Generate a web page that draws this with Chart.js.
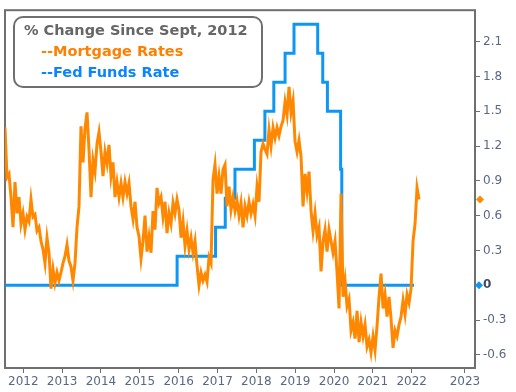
<!DOCTYPE html>
<html>
<head>
<meta charset="utf-8">
<script src="https://cdn.jsdelivr.net/npm/chart.js@4.4.1/dist/chart.umd.min.js"></script>
<style>
  html, body { margin: 0; padding: 0; background: #fff; }
</style>
</head>
<body>
<canvas id="chart" width="516" height="392"></canvas>
<script>
const titleText = '% Change Since Sept, 2012';
const seriesNames = ['--Mortgage Rates', '--Fed Funds Rate'];

// mortgage rate change in pct points, every 19 days from mid-2011
const mortgageStart = 2011.529;
const mortgageStep = 0.0515;
const mortgageChange = [
  1.36, 0.93, 0.96, 0.76, 0.50, 0.89, 0.62, 0.76, 0.53, 0.62,
  0.48, 0.59, 0.55, 0.74, 0.59, 0.61, 0.47, 0.50, 0.38, 0.31,
  0.19, 0.41, 0.28, -0.03, 0.14, 0.02, 0.11, 0.04, 0.11, 0.19,
  0.25, 0.35, 0.21, 0.16, 0.04, 0.19, 0.50, 0.68, 1.37, 1.06,
  1.35, 1.49, 1.17, 0.76, 1.08, 0.98, 1.22, 1.32, 1.15, 0.94,
  1.15, 1.05, 1.21, 0.94, 1.06, 0.76, 0.89, 0.76, 0.88, 0.76,
  0.89, 0.79, 0.88, 0.68, 0.57, 0.72, 0.50, 0.42, 0.23, 0.38,
  0.60, 0.29, 0.42, 0.28, 0.64, 0.48, 0.84, 0.71, 0.76, 0.59,
  0.72, 0.45, 0.62, 0.53, 0.71, 0.62, 0.74, 0.65, 0.41, 0.55,
  0.34, 0.47, 0.31, 0.41, 0.28, 0.38, 0.17, 0.00, 0.11, 0.04,
  0.09, 0.03, 0.24, 0.19, 0.91, 1.04, 0.79, 0.94, 0.79, 1.00,
  1.04, 0.68, 0.85, 0.65, 0.76, 0.64, 0.73, 0.60, 0.71, 0.50,
  0.68, 0.60, 0.72, 0.62, 0.70, 0.60, 0.85, 0.72, 1.15, 1.22,
  1.17, 1.13, 1.34, 1.20, 1.36, 1.27, 1.36, 1.29, 1.37, 1.42,
  1.58, 1.47, 1.71, 1.49, 1.59, 1.24, 1.15, 1.25, 1.11, 0.68,
  0.96, 0.81, 0.98, 0.64, 0.47, 0.62, 0.43, 0.50, 0.12, 0.38,
  0.48, 0.29, 0.48, 0.38, 0.28, 0.38, 0.11, -0.20, 0.79, -0.10,
  0.04, -0.18, -0.12, -0.39, -0.32, -0.46, -0.22, -0.49, -0.32, -0.44,
  -0.34, -0.53, -0.47, -0.58, -0.44, -0.56, -0.35, -0.10, 0.10, -0.20,
  -0.08, -0.27, -0.10, -0.29, -0.54, -0.39, -0.44, -0.34, -0.27, -0.13,
  -0.25, -0.08, -0.15, -0.03, 0.38, 0.53, 0.84, 0.74,
];

// fed funds changes (new level holds from each date)
const fedDates = [2011.529, 2015.96, 2016.95, 2017.20, 2017.45, 2017.95, 2018.22, 2018.45,
  2018.74, 2018.97, 2019.58, 2019.71, 2019.83, 2020.17, 2020.20, 2022.06];
const fedChange = [0, 0.25, 0.5, 0.75, 1.0, 1.25, 1.5, 1.75, 2.0, 2.25, 2.0, 1.75, 1.5, 1.0, 0, 0];

const yearTicks = [2012, 2013, 2014, 2015, 2016, 2017, 2018, 2019, 2020, 2021, 2022, 2023.37];
const yearLabels = ['2012', '2013', '2014', '2015', '2016', '2017', '2018', '2019', '2020', '2021', '2022', '2023'];
const valueTicks = [-0.6, -0.3, 0, 0.3, 0.6, 0.9, 1.2, 1.5, 1.8, 2.1];
const valueLabels = ['-0.6', '-0.3', '0', '0.3', '0.6', '0.9', '1.2', '1.5', '1.8', '2.1'];

const orange = '#ff8800';
const blue = '#0d97f2';
const frameColor = '#6f6f6f';
const tickColor = '#5a6785';
const font = 'DejaVu Sans';

const mortgagePoints = mortgageChange.map((v, i) => ({ x: mortgageStart + i * mortgageStep, y: v }));
const fedPoints = fedChange.map((v, i) => ({ x: fedDates[i], y: v }));

function diamond(ctx, x, y, r, color) {
  ctx.beginPath();
  ctx.moveTo(x, y - r);
  ctx.lineTo(x + r, y);
  ctx.lineTo(x, y + r);
  ctx.lineTo(x - r, y);
  ctx.closePath();
  ctx.fillStyle = color;
  ctx.fill();
}

function roundedBox(ctx, x, y, w, h, r) {
  ctx.beginPath();
  ctx.moveTo(x + r, y);
  ctx.arcTo(x + w, y, x + w, y + h, r);
  ctx.arcTo(x + w, y + h, x, y + h, r);
  ctx.arcTo(x, y + h, x, y, r);
  ctx.arcTo(x, y, x + w, y, r);
  ctx.closePath();
}

const framePlugin = {
  id: 'frameAndNotes',
  beforeDatasetsDraw(chart) {
    const { ctx, chartArea: a } = chart;
    ctx.save();
    ctx.strokeStyle = frameColor;
    ctx.lineWidth = 2;
    ctx.strokeRect(a.left, a.top, a.right - a.left, a.bottom - a.top);
    ctx.restore();
  },
  afterDraw(chart) {
    const { ctx, chartArea: a } = chart;
    const yScale = chart.scales.y;
    ctx.save();
    // last-value markers on the axis
    diamond(ctx, a.right + 5, yScale.getPixelForValue(mortgageChange[mortgageChange.length - 1]), 4, orange);
    diamond(ctx, a.right + 4, yScale.getPixelForValue(fedChange[fedChange.length - 1]), 4, blue);

    // title / legend box
    roundedBox(ctx, 14, 17, 248, 70, 9);
    ctx.fillStyle = '#fff';
    ctx.fill();
    ctx.strokeStyle = frameColor;
    ctx.lineWidth = 2;
    ctx.stroke();
    ctx.font = 'bold 14.5px "' + font + '"';
    ctx.textBaseline = 'alphabetic';
    ctx.fillStyle = '#666666';
    ctx.fillText(titleText, 24, 35);
    ctx.fillStyle = '#ff8000';
    ctx.fillText(seriesNames[0], 41, 56);
    ctx.fillStyle = '#0a84ff';
    ctx.fillText(seriesNames[1], 41, 77);
    ctx.restore();
  },
};

new Chart(document.getElementById('chart'), {
  type: 'line',
  data: {
    datasets: [
      {
        label: seriesNames[0],
        data: mortgagePoints,
        borderColor: orange,
        borderWidth: 3,
        pointRadius: 0,
        tension: 0,
      },
      {
        label: seriesNames[1],
        data: fedPoints,
        borderColor: blue,
        borderWidth: 3,
        pointRadius: 0,
        stepped: true,
      },
    ],
  },
  options: {
    responsive: false,
    animation: false,
    events: [],
    layout: { padding: { left: 5, top: 7, right: 0, bottom: 0 } },
    plugins: { legend: { display: false }, tooltip: { enabled: false } },
    scales: {
      x: {
        type: 'linear',
        min: 2011.529,
        max: 2023.63,
        afterBuildTicks: (scale) => { scale.ticks = yearTicks.map(v => ({ value: v })); },
        afterFit: (scale) => { scale.height = 24; },
        border: { display: false },
        grid: { drawOnChartArea: false, drawTicks: true, tickLength: 5, color: frameColor },
        ticks: {
          autoSkip: false,
          maxRotation: 0,
          padding: 2,
          color: tickColor,
          font: { family: font, size: 12 },
          callback: (v, i) => yearLabels[i],
        },
      },
      y: {
        type: 'linear',
        position: 'right',
        min: -0.7137,
        max: 2.3718,
        afterBuildTicks: (scale) => { scale.ticks = valueTicks.map(v => ({ value: v })); },
        afterFit: (scale) => { scale.width = 41; },
        border: { display: false },
        grid: { drawOnChartArea: false, drawTicks: true, tickLength: 5, color: frameColor },
        ticks: {
          autoSkip: false,
          padding: 3,
          color: (c) => (c.tick && c.tick.value === 0 ? '#3d4a63' : tickColor),
          font: (c) => ({ family: font, size: 12, weight: c.tick && c.tick.value === 0 ? 'bold' : 'normal' }),
          callback: (v, i) => valueLabels[i],
        },
      },
    },
  },
  plugins: [framePlugin],
});
</script>
</body>
</html>
